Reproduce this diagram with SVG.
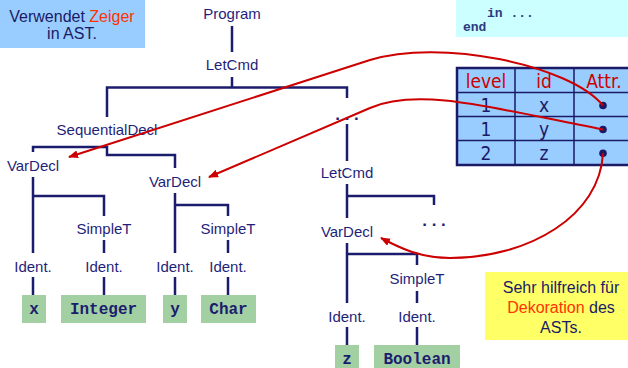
<svg xmlns="http://www.w3.org/2000/svg" width="628" height="368" viewBox="0 0 628 368">
<defs>
<style>
.lbl{font-family:"Liberation Sans",Arial,sans-serif;font-size:15px;fill:#1f1f7a;text-anchor:middle}
.dots{font-size:17px;font-weight:bold}
.note{font-family:"Liberation Sans",Arial,sans-serif;font-size:16px;fill:#1a1a66;text-anchor:middle}
.hl{fill:#ff3300}
.edge{stroke:#1c1c6e;stroke-width:2.5;fill:none}
.leaf{fill:#a3d0a3}
.code{font-family:"Liberation Mono","Courier New",monospace;font-weight:bold;font-size:16px;fill:#1c1c6e;text-anchor:middle}
.src{font-family:"Liberation Mono","Courier New",monospace;font-weight:bold;font-size:13px;fill:#2a3a80}
.ptr{stroke:#cc0000;stroke-width:2;fill:none}
.tbl{font-family:"DejaVu Sans Condensed","DejaVu Sans",Verdana,sans-serif;font-size:19px;text-anchor:middle;fill:#1a1a66}
.th{fill:#cc0000}
.grid{stroke:#1a1a66;stroke-width:1.5;fill:none}
</style>
<marker id="ah" markerWidth="10" markerHeight="8" refX="9" refY="4" orient="auto" markerUnits="userSpaceOnUse"><path d="M0,0 L10,4 L0,8 z" fill="#cc0000"/></marker>
</defs>

<!-- notes -->
<g id="note-zeiger">
<rect x="0" y="0" width="145" height="48" fill="#99ccff"/>
<text class="note" x="72" y="22">Verwendet <tspan class="hl">Zeiger</tspan></text>
<text class="note" x="72" y="39">in AST.</text>
</g>
<g id="code-box">
<rect x="456" y="0" width="172" height="37" fill="#ccffff"/>
<text class="src" x="487" y="17">in ...</text>
<text class="src" x="463" y="31">end</text>
</g>
<g id="note-deko">
<rect x="485" y="272" width="143" height="68" fill="#ffff66"/>
<text class="note" x="561" y="293">Sehr hilfreich für</text>
<text class="note" x="561" y="313"><tspan class="hl">Dekoration</tspan> des</text>
<text class="note" x="561" y="333">ASTs.</text>
</g>

<!-- table -->
<g id="id-table">
<rect x="457" y="68" width="180" height="97" fill="#99ccff"/>
<path class="grid" d="M457,92.5 H637 M457,116.5 H637 M457,140.5 H637 M515,68 V165 M574,68 V165"/>
<rect x="457" y="68" width="180" height="97" fill="none" stroke="#1a1a66" stroke-width="2.5"/>
<text class="tbl th" x="486" y="88">level</text>
<text class="tbl th" x="544" y="88">id</text>
<text class="tbl th" x="604" y="88">Attr.</text>
<text class="tbl" x="486" y="112">1</text>
<text class="tbl" x="544" y="112">x</text>
<text class="tbl" x="486" y="136">1</text>
<text class="tbl" x="544" y="136">y</text>
<text class="tbl" x="486" y="160">2</text>
<text class="tbl" x="544" y="160">z</text>
<circle cx="603" cy="105.5" r="3.8" fill="#1a1a66"/>
<circle cx="603" cy="129.5" r="3.8" fill="#1a1a66"/>
<circle cx="603" cy="153.3" r="3.8" fill="#1a1a66"/>
</g>

<!-- tree edges -->
<g id="edges">
<path class="edge" d="M232,26 V52"/>
<path class="edge" d="M232,77 V87.5 M107,117 V87.5 H347 V98"/>
<path class="edge" d="M33,152 V147 H107 V155 H175 V168"/>
<path class="edge" d="M33,177 V253 M33,196 H104 V216 M104,240 V253"/>
<path class="edge" d="M33,277 V296 M104,277 V296"/>
<path class="edge" d="M175,193 V253 M175,205 H228 V216 M228,240 V253"/>
<path class="edge" d="M175,277 V296 M228,277 V296"/>
<path class="edge" d="M347,124 V161"/>
<path class="edge" d="M347,184 V218 M347,196 H434 V205"/>
<path class="edge" d="M347,243 V303 M347,254 H417 V265 M417,291 V303"/>
<path class="edge" d="M347,327 V345 M417,327 V345"/>
</g>

<!-- tree nodes -->
<g id="n-program"><text class="lbl" x="232" y="19">Program</text></g>
<g id="n-letcmd1"><text class="lbl" x="232" y="70">LetCmd</text></g>
<g id="n-seqdecl"><text class="lbl" x="107" y="135">SequentialDecl</text></g>
<g id="n-dots1"><text class="lbl dots" x="347" y="120">. . .</text></g>
<g id="n-vardecl1"><text class="lbl" x="33" y="171">VarDecl</text></g>
<g id="n-vardecl2"><text class="lbl" x="175" y="187">VarDecl</text></g>
<g id="n-simplet1"><text class="lbl" x="104" y="234">SimpleT</text></g>
<g id="n-simplet2"><text class="lbl" x="228" y="234">SimpleT</text></g>
<g id="n-ident1"><text class="lbl" x="33" y="272">Ident.</text></g>
<g id="n-ident2"><text class="lbl" x="104" y="272">Ident.</text></g>
<g id="n-ident3"><text class="lbl" x="175" y="272">Ident.</text></g>
<g id="n-ident4"><text class="lbl" x="228" y="272">Ident.</text></g>
<g id="n-letcmd2"><text class="lbl" x="347" y="178">LetCmd</text></g>
<g id="n-dots2"><text class="lbl dots" x="434" y="226">. . .</text></g>
<g id="n-vardecl3"><text class="lbl" x="347" y="237">VarDecl</text></g>
<g id="n-simplet3"><text class="lbl" x="417" y="284">SimpleT</text></g>
<g id="n-ident5"><text class="lbl" x="347" y="322">Ident.</text></g>
<g id="n-ident6"><text class="lbl" x="417" y="322">Ident.</text></g>

<g id="leaf-x"><rect class="leaf" x="22" y="295" width="24" height="28"/><text class="code" x="34" y="314">x</text></g>
<g id="leaf-integer"><rect class="leaf" x="61" y="295" width="85" height="28"/><text class="code" x="103.5" y="314">Integer</text></g>
<g id="leaf-y"><rect class="leaf" x="163" y="295" width="24" height="28"/><text class="code" x="175" y="314">y</text></g>
<g id="leaf-char"><rect class="leaf" x="201" y="295" width="55" height="28"/><text class="code" x="228.5" y="314">Char</text></g>
<g id="leaf-z"><rect class="leaf" x="335" y="345" width="24" height="28"/><text class="code" x="347" y="364">z</text></g>
<g id="leaf-boolean"><rect class="leaf" x="374" y="345" width="86" height="28"/><text class="code" x="417" y="364">Boolean</text></g>

<!-- pointers -->
<g id="pointers">
<path class="ptr" marker-end="url(#ah)" d="M603,105.5 C570,65 440,38 370,60 L69,157"/>
<path class="ptr" marker-end="url(#ah)" d="M603,129.5 C500,110 420,86 370,108 L209,177"/>
<path class="ptr" marker-end="url(#ah)" d="M603,153.3 C600,215 530,258 450,258 C420,258 400,248 381,238"/>
</g>
</svg>
